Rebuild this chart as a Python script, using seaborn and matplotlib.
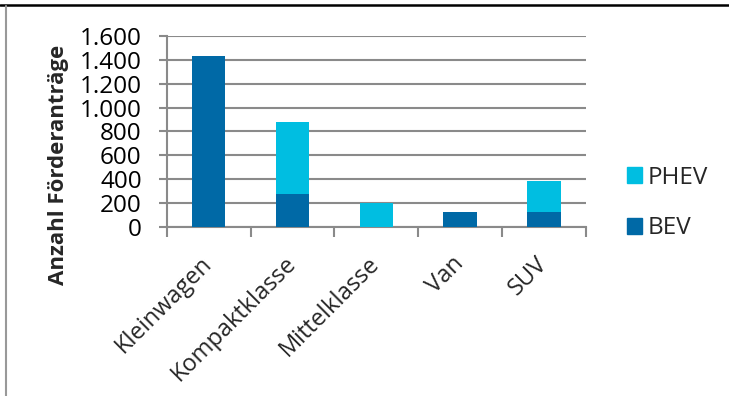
import matplotlib
matplotlib.use("Agg")
import matplotlib.pyplot as plt
import seaborn as sns
import pandas as pd
import numpy as np
from matplotlib.lines import Line2D
from matplotlib.patches import Patch

categories = ["Kleinwagen", "Kompaktklasse", "Mittelklasse", "Van", "SUV"]
bev = [1430, 275, 0, 120, 125]
phev = [0, 605, 195, 0, 255]
yticks = [0, 200, 400, 600, 800, 1000, 1200, 1400, 1600]
ytick_labels = ["0", "200", "400", "600", "800", "1.000", "1.200", "1.400", "1.600"]

sns.set_theme(style="white")
plt.rcParams["font.family"] = ["Open Sans", "DejaVu Sans"]

df = pd.DataFrame({"Kategorie": categories, "BEV": bev, "PHEV": phev})
df["Total"] = df["BEV"] + df["PHEV"]

BEV_C = "#0069A6"
PHEV_C = "#00BEE1"
GRID_C = "#8a8a8a"

fig = plt.figure(figsize=(7.29, 3.96), dpi=100)
ax = fig.add_axes([166.7 / 729, 1 - 226.7 / 396, (586 - 166.7) / 729, (226.7 - 36) / 396])

sns.barplot(data=df, x="Kategorie", y="Total", color=PHEV_C, width=0.4,
            linewidth=0, saturation=1, ax=ax, zorder=3)
sns.barplot(data=df, x="Kategorie", y="BEV", color=BEV_C, width=0.4,
            linewidth=0, saturation=1, ax=ax, zorder=4)

ax.set_ylim(0, 1600)
ax.set_xlim(-0.5, len(categories) - 0.5)
ax.set_yticks(yticks)
ax.set_yticklabels(ytick_labels)
ax.yaxis.grid(True, color=GRID_C, linewidth=1.5, zorder=0)
ax.set_axisbelow(True)

for s in ["top", "right"]:
    ax.spines[s].set_visible(False)
for s in ["left", "bottom"]:
    ax.spines[s].set_color(GRID_C)
    ax.spines[s].set_linewidth(1.5)

ax.tick_params(axis="y", which="major", left=True, length=6, width=1.5, color=GRID_C,
               labelsize=17.5, pad=12, labelcolor="black")
ax.set_xticks(range(len(categories)))
ax.set_xticklabels(categories, rotation=45, ha="right", va="center",
                   rotation_mode="anchor", fontsize=17)
ax.tick_params(axis="x", which="major", bottom=False, length=0, pad=24)
ax.set_xticks(np.arange(-0.5, len(categories)), minor=True)
ax.tick_params(axis="x", which="minor", bottom=True, length=7, width=1.5, color=GRID_C)

ax.set_xlabel("")
ax.set_ylabel("Anzahl Förderanträge", fontsize=16, fontweight="bold")
ax.yaxis.set_label_coords(-0.232, 0.325)

handles = [Patch(color=PHEV_C, label="PHEV"), Patch(color=BEV_C, label="BEV")]
fig.legend(handles=handles, loc="center left", bbox_to_anchor=(627 / 729, 1 - 203 / 396),
           frameon=False, fontsize=17.5, handlelength=0.6, handleheight=0.6,
           handletextpad=0.25, labelspacing=1.1, borderaxespad=0, borderpad=0)

fig.add_artist(Line2D([0, 1], [1 - 5 / 396, 1 - 5 / 396], color="black", linewidth=1.8,
                      transform=fig.transFigure))
fig.add_artist(Line2D([6 / 729, 6 / 729], [0, 1 - 6 / 396], color="#999999", linewidth=1.5,
                      transform=fig.transFigure))

fig.savefig("out.png", dpi=100)
